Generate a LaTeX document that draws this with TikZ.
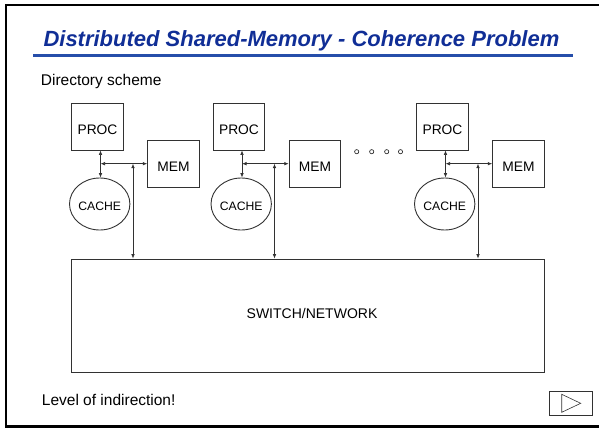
\documentclass[tikz,border=0pt]{standalone}
\usepackage{fontspec}
\setmainfont{Liberation Sans}
\usetikzlibrary{arrows.meta,shapes.geometric}
\definecolor{titleblue}{RGB}{16,46,150}
\definecolor{ruleblue}{RGB}{38,78,170}
\definecolor{ink}{RGB}{50,50,50}
\tikzset{
  unitbox/.style={draw=ink, line width=0.9pt, rectangle, inner sep=0pt,
    minimum width=51.6pt, minimum height=47pt,
    font=\fontsize{13.8}{15}\selectfont, text height=15.3pt, text depth=0pt},
  cachenode/.style={draw=ink, line width=0.9pt, ellipse, inner sep=0pt,
    minimum width=55.6pt, minimum height=52pt,
    font=\fontsize{12.2}{14}\selectfont, text height=12.1pt, text depth=0pt},
  link/.style={draw=ink, line width=0.7pt, {Latex[length=4.5pt,width=3.6pt]}-{Latex[length=4.5pt,width=3.6pt]}},
  bodytext/.style={anchor=base west, inner sep=0pt, font=\fontsize{15.5}{18}\selectfont},
  dot/.style={draw=ink, line width=0.7pt, circle, inner sep=0pt, minimum size=4.2pt},
}
\begin{document}
\begin{tikzpicture}[x=1pt,y=-1pt]
\useasboundingbox (0,0) rectangle (599,428);

% slide frame (open on the right)
\draw[line width=2.3pt] (600,4.7) -- (6.2,4.7) -- (6.2,426.5) -- (600,426.5);

% heading
\node[anchor=base west, inner sep=0pt, text=titleblue,
      font=\fontsize{22}{26}\selectfont\bfseries\itshape] (title) at (43.3,46.7)
      {Distributed Shared-Memory - Coherence Problem};
\draw[ruleblue, line width=2.4pt] (33.3,55.5) -- (572.7,55.5);

\node[bodytext] (scheme) at (40.7,85.7) {Directory scheme};

% interconnect
\node[draw=ink, line width=0.9pt, rectangle, inner sep=0pt,
      minimum width=472.6pt, minimum height=113.3pt] (net) at (308,315.65) {};
\node[inner sep=0pt, font=\fontsize{14}{16}\selectfont] (netlabel) at (312,313.7) {SWITCH/NETWORK};

% processing nodes
\foreach \i/\dx in {1/0, 2/141.5, 3/345} {
  \node[unitbox] (p\i) at (97.5+\dx,126.5) {PROC};
  \node[unitbox] (m\i) at (173.5+\dx,164.2) {MEM};
  \node[cachenode] (c\i) at (99.7+\dx,204) {CACHE};
  \coordinate (j\i) at (100.5+\dx,163.7);
  \coordinate (b\i) at (133+\dx,163.7);
  \draw[link] (p\i.south -| j\i) -- (c\i.north -| j\i);
  \draw[link] (j\i) -- (m\i.west |- j\i);
  \draw[link] (b\i) -- (net.north -| b\i);
}

% ellipsis between nodes
\foreach \k/\x in {1/356.7, 2/371.7, 3/386.7, 4/400.5}
  \node[dot] (d\k) at (\x,151.7) {};

\node[bodytext] (indir) at (41.7,405) {Level of indirection!};

% forward button
\node[draw=ink, line width=0.8pt, rectangle, inner sep=0pt,
      minimum width=43pt, minimum height=24.3pt] (btn) at (570.8,403.15) {};
\draw[ink, line width=0.6pt] (561.7,394.3) -- (580.7,403.3) -- (561.7,412.3) -- cycle;
\end{tikzpicture}
\end{document}
